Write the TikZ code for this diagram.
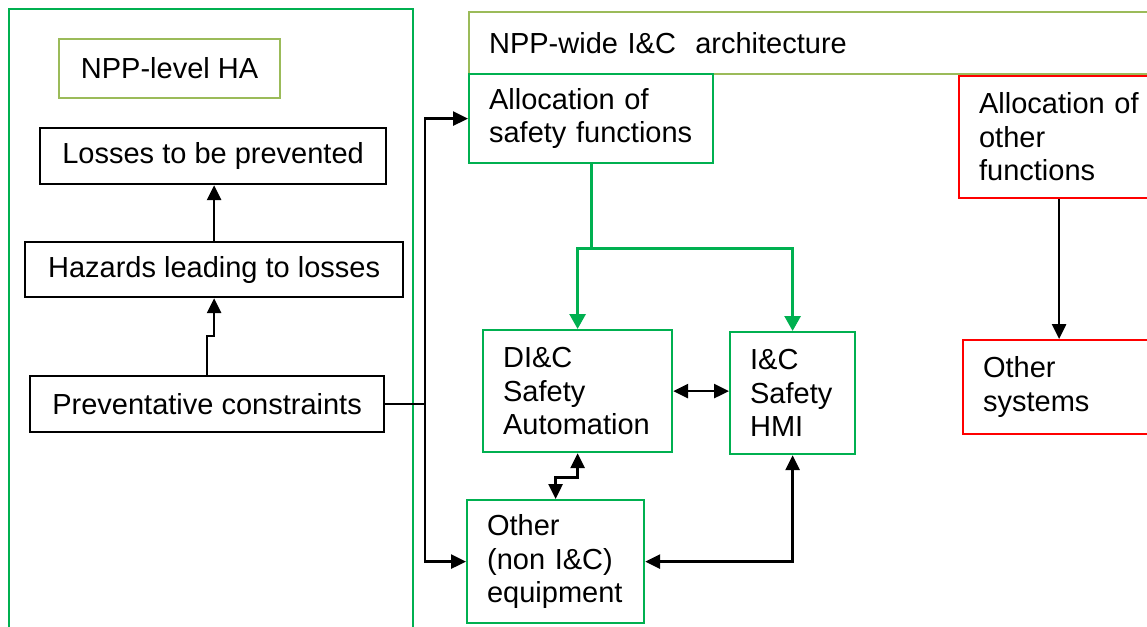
\documentclass[tikz,border=0pt]{standalone}
\usepackage{fontspec}
\setmainfont{Liberation Sans}
\usetikzlibrary{arrows.meta,calc}
\definecolor{boxgreen}{RGB}{0,176,80}
\definecolor{olive}{RGB}{155,187,89}
\definecolor{boxred}{RGB}{255,0,0}
\tikzset{
  every node/.style={font=\fontsize{29}{33.5}\selectfont},
  box/.style={draw, rectangle, line width=2.2pt, inner ysep=0pt, anchor=north west},
  cbox/.style={box, align=center, inner xsep=0pt},
  lbox/.style={box, align=left, inner xsep=20pt},
  blackbox/.style={cbox, draw=black},
  olivebox/.style={cbox, draw=olive},
  greenbox/.style={lbox, draw=boxgreen},
  redbox/.style={lbox, draw=boxred},
  arr/.style={line width=2.6pt, -{Triangle[length=15pt,width=14pt]}},
  darr/.style={line width=2.6pt, {Triangle[length=15pt,width=14pt]}-{Triangle[length=15pt,width=14pt]}},
  gline/.style={draw=boxgreen, line width=2.8pt},
  garr/.style={gline, -{Triangle[length=15pt,width=16pt]}, boxgreen},
}
\begin{document}
\begin{tikzpicture}[x=1pt,y=-1pt]
\useasboundingbox (0,0) rectangle (1147,626);
\begin{scope}
\clip (0,0) rectangle (1147,626);

% hazard analysis frame
\draw[boxgreen, line width=2pt] (9,9) rectangle (413,645);
\node[olivebox, minimum width=221pt, minimum height=59pt] (ha) at (58,38) {NPP-level HA};
\node[blackbox, minimum width=346pt, minimum height=56pt] (loss) at (39,127) {Losses to be prevented};
\node[blackbox, minimum width=378pt, minimum height=55pt] (haz) at (24,241) {Hazards leading to losses};
\node[blackbox, minimum width=354pt, minimum height=56pt] (prev) at (29,375) {Preventative constraints};

% architecture frame
\node[box, draw=olive, minimum width=700pt, minimum height=62pt, inner xsep=20pt,
      text width=660pt, align=left] (arch) at (468,11) {NPP-wide I\&C\ \ architecture};

\node[greenbox, minimum width=244pt, minimum height=89pt, text width=204pt] (asf) at (468,73)
  {\mbox{Allocation of}\\\mbox{safety functions}};
\node[greenbox, minimum width=189pt, minimum height=122pt, text width=149pt] (dic) at (482,329)
  {DI\&C\\Safety\\\mbox{Automation}};
\node[greenbox, minimum width=125pt, minimum height=122pt, text width=85pt] (hmi) at (729,331)
  {I\&C\\Safety\\HMI};
\node[greenbox, minimum width=177pt, minimum height=123pt, text width=137pt] (oth) at (466,499)
  {Other\\\mbox{(non I\&C)}\\\mbox{equipment}};
\node[redbox, minimum width=200pt, minimum height=122pt, text width=160pt] (aof) at (958,75)
  {\mbox{Allocation of}\\other\\functions};
\node[redbox, minimum width=192pt, minimum height=94pt, text width=152pt] (osys) at (962,339)
  {Other\\systems};

% connectors
\coordinate (jx) at (425,0);
\coordinate (gsplit) at ($(asf.south)+(0.5,84)$);
\draw[arr] (prev.north) -- ++(0,-39) -| (haz.south);
\draw[arr] (haz.north) -- (haz.north |- loss.south);
\draw[line width=2.6pt] (prev.east) -- (prev.east -| jx);
\draw[arr] (prev.east -| jx) |- (asf.west);
\draw[arr] (prev.east -| jx) |- (oth.west);
\draw[gline] (asf.south -| gsplit) -- (gsplit);
\draw[garr] (gsplit) -| (dic.north);
\draw[garr] (gsplit) -| (hmi.north);
\draw[darr] (dic.east) -- (dic.east -| hmi.west);
\draw[darr] (dic.south) -- ++(0,24) -| (oth.north);
\draw[darr] (hmi.south) |- (oth.east);
\draw[arr] (aof.south) -- (osys.north);
\end{scope}
\end{tikzpicture}
\end{document}
